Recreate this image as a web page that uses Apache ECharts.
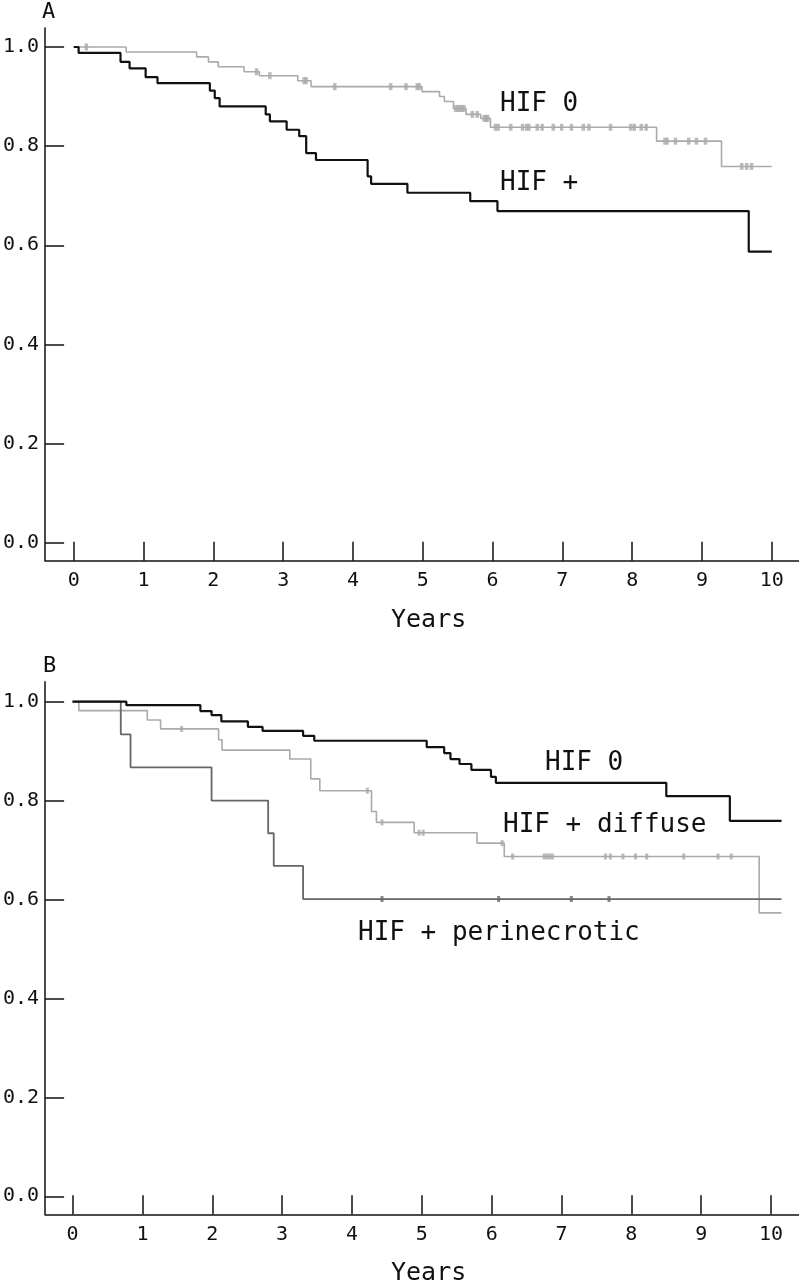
<!DOCTYPE html>
<html>
<head>
<meta charset="utf-8">
<script src="https://cdn.jsdelivr.net/npm/echarts@6/dist/echarts.min.js"></script>
<style>
html,body{margin:0;padding:0;background:#fff;}
#c{width:799px;height:1280px;}
</style>
</head>
<body>
<div id="c"></div>
<script>
// ---- tick labels ----
const xTicks = [0,1,2,3,4,5,6,7,8,9,10];
const yTicks = [0,0.2,0.4,0.6,0.8,1.0];

// ---- Panel A ----
const A_hif0_t = [0,0.75,1.76,1.93,2.07,2.44,2.66,3.21,3.40,4.99,5.24,5.31,5.44,5.62,5.83,5.97,8.35,9.28,10.0];
const A_hif0_s = [1.0,0.99,0.98,0.97,0.96,0.95,0.942,0.932,0.92,0.91,0.90,0.89,0.876,0.864,0.856,0.838,0.81,0.759,0.759];
const A_hif0_cens = [0.18,2.62,2.81,3.30,3.33,3.74,4.54,4.76,4.92,4.95,5.47,5.50,5.53,5.56,5.59,5.71,5.78,5.88,5.91,5.93,6.04,6.08,6.26,6.43,6.49,6.52,6.64,6.71,6.87,6.99,7.13,7.30,7.38,7.69,7.98,8.03,8.13,8.20,8.47,8.50,8.62,8.81,8.92,9.05,9.57,9.64,9.71];
const A_hifp_t = [0,0.07,0.67,0.80,1.03,1.20,1.95,2.02,2.09,2.75,2.81,3.05,3.23,3.33,3.47,4.21,4.26,4.78,5.68,6.07,9.67,10.0];
const A_hifp_s = [1.0,0.988,0.97,0.957,0.939,0.927,0.912,0.897,0.88,0.864,0.85,0.833,0.82,0.786,0.772,0.739,0.724,0.706,0.689,0.669,0.587,0.587];

// ---- Panel B ----
const B_hif0_t = [0,0.77,1.83,1.99,2.13,2.51,2.72,3.30,3.46,5.07,5.32,5.41,5.54,5.71,5.99,6.06,8.50,9.41,10.15];
const B_hif0_s = [1.0,0.993,0.981,0.973,0.96,0.949,0.941,0.931,0.921,0.908,0.896,0.884,0.874,0.862,0.848,0.836,0.809,0.759,0.759];
const B_diff_t = [0,0.09,1.07,1.26,2.09,2.14,3.11,3.41,3.54,4.28,4.35,4.89,5.79,6.18,9.83,10.15];
const B_diff_s = [1.0,0.982,0.963,0.945,0.923,0.902,0.884,0.844,0.82,0.778,0.756,0.735,0.714,0.687,0.573,0.573];
const B_diff_cens = [1.56,4.22,4.43,4.96,5.02,6.15,6.30,6.75,6.79,6.83,6.87,7.63,7.70,7.88,8.06,8.22,8.75,9.24,9.43];
const B_peri_t = [0,0.69,0.83,1.99,2.80,2.88,3.30,10.15];
const B_peri_s = [1.0,0.934,0.867,0.80,0.734,0.668,0.601,0.601];
const B_peri_cens = [4.43,6.10,7.14,7.68];

const FONT = 'DejaVu Sans Mono';
const INK = '#111';

function pairs(t, s){ return t.map((v,i)=>[v, s[i]]); }
// survival value of a KM curve at a censoring time (value of the step holding at t)
function censPts(cens, t, s){
  return cens.map(c=>{
    let v = s[0];
    for (let i=0;i<t.length;i++){ if (t[i] <= c) v = s[i]; }
    return [c, v];
  });
}

function xAxisCfg(gi, min, max){
  return {
    type:'value', gridIndex:gi, min:min, max:max, position:'bottom',
    axisLine:{show:true, onZero:false, lineStyle:{color:INK, width:1.5}},
    axisTick:{show:true, inside:true, length:19, customValues:xTicks, lineStyle:{color:INK, width:1.5}},
    axisLabel:{show:true, customValues:xTicks, margin:10, fontFamily:FONT, fontSize:20, color:INK},
    splitLine:{show:false}
  };
}
function yAxisCfg(gi, min, max){
  return {
    type:'value', gridIndex:gi, min:min, max:max,
    axisLine:{show:true, onZero:false, lineStyle:{color:INK, width:1.5}},
    axisTick:{show:true, inside:true, length:19, customValues:yTicks, lineStyle:{color:INK, width:1.5}},
    axisLabel:{show:true, customValues:yTicks, margin:6, fontFamily:FONT, fontSize:20, color:INK,
      formatter:v=>v.toFixed(1)},
    splitLine:{show:false}
  };
}
function stepLine(xi, data, color, w){
  return {type:'line', xAxisIndex:xi, yAxisIndex:xi, step:'end', data:data, showSymbol:false,
    lineStyle:{color:color, width:w}, silent:true, animation:false, z:2};
}
function cens(xi, data, color, size){
  return {type:'scatter', xAxisIndex:xi, yAxisIndex:xi, data:data, symbol:'rect', symbolSize:size,
    itemStyle:{color:color}, silent:true, animation:false, z:3};
}
function txt(x, y, s, size, align){
  return {type:'text', left:x, top:y, style:{text:s, font:size+'px "'+FONT+'"', fill:INK, textAlign:align||'left'}};
}

const chart = echarts.init(document.getElementById('c'), null, {renderer:'canvas'});
const GRAY = '#aaaaaa', DGRAY = '#666666';
chart.setOption({
  animation:false,
  backgroundColor:'#fff',
  grid:[
    {left:43, right:0, top:28, height:532.7},
    {left:43, right:0, top:681.7, height:532.6}
  ],
  xAxis:[xAxisCfg(0, -0.41, 10.39), xAxisCfg(1, -0.393, 10.40)],
  yAxis:[yAxisCfg(0, -0.0363, 1.0383), yAxisCfg(1, -0.0364, 1.0404)],
  series:[
    stepLine(0, pairs(A_hif0_t, A_hif0_s), GRAY, 1.6),
    cens(0, censPts(A_hif0_cens, A_hif0_t, A_hif0_s), GRAY, [3.5,7]),
    stepLine(0, pairs(A_hifp_t, A_hifp_s), INK, 2.2),
    stepLine(1, pairs(B_diff_t, B_diff_s), GRAY, 1.6),
    cens(1, censPts(B_diff_cens, B_diff_t, B_diff_s), GRAY, [3,6]),
    stepLine(1, pairs(B_peri_t, B_peri_s), DGRAY, 1.8),
    cens(1, censPts(B_peri_cens, B_peri_t, B_peri_s), DGRAY, [3,6]),
    stepLine(1, pairs(B_hif0_t, B_hif0_s), INK, 2.2)
  ],
  graphic:[
    txt(42, 1, 'A', 22),
    txt(500, 91, 'HIF 0', 26),
    txt(500, 170, 'HIF +', 26),
    txt(391, 608, 'Years', 25),
    txt(43, 655, 'B', 22),
    txt(545, 750, 'HIF 0', 26),
    txt(503, 812, 'HIF + diffuse', 26),
    txt(358, 920, 'HIF + perinecrotic', 26),
    txt(391, 1261, 'Years', 25)
  ]
});
</script>
</body>
</html>
